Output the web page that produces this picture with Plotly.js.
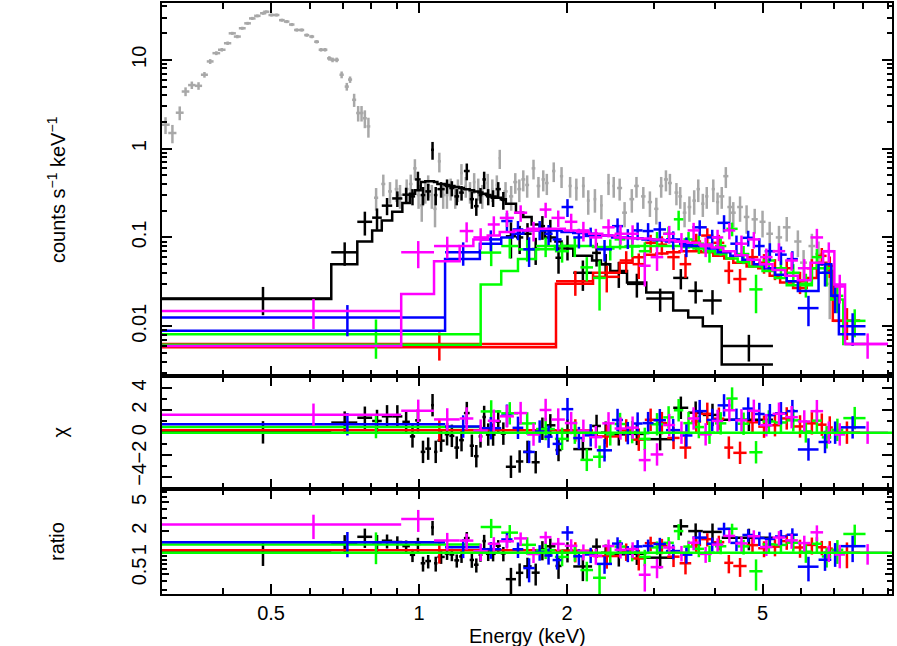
<!DOCTYPE html>
<html><head><meta charset="utf-8">
<script src="https://cdn.plot.ly/plotly-3.0.1.min.js"></script>
<style>html,body{margin:0;padding:0;background:#fff;}#chart{width:897px;height:646px;}</style>
</head><body><div id="chart"></div>
<script>
// ---------- DATA ----------
// Gray spectrum (no model), low-energy part
const grayLoE  = [0.305,0.315,0.326,0.335,0.345,0.356,0.366,0.376,0.387,0.397,0.408,0.417,0.427,0.437,0.448,0.458,0.469,0.482,0.489,0.501,0.513,0.526,0.538,0.551,0.564,0.577,0.591,0.605,0.619,0.632,0.644,0.657,0.667,0.680,0.696,0.713,0.724,0.738,0.752,0.764,0.776,0.789];
const grayLoY  = [1.86,1.5,2.54,4.4,5.2,5.1,6.8,9.6,11.9,13,15.4,19.9,18.3,22.7,25.8,29.3,31.3,33.5,34.8,32,32,28,27,25,21.7,21.7,19,18.3,16,13,13,10.4,10,10,6.8,5,6,3.55,2.52,2.52,2.2,1.78];
const grayLoDY = [0.4,0.35,0.45,0.5,0.5,0.5,0.5,0.6,0.6,0.6,0.7,0.8,0.8,0.9,1.0,1.2,1.2,1.3,1.3,1.3,1.3,1.1,1.1,1.0,0.9,0.9,0.8,0.8,0.7,0.6,0.6,0.6,0.6,0.6,0.6,0.5,0.5,0.6,0.5,0.5,0.5,0.45];
const grayLoDE = [0.006,0.006,0.006,0.006,0.006,0.006,0.006,0.006,0.007,0.007,0.007,0.007,0.007,0.007,0.007,0.007,0.007,0.007,0.007,0.007,0.007,0.007,0.007,0.007,0.007,0.007,0.007,0.007,0.007,0.007,0.007,0.007,0.007,0.007,0.007,0.007,0.007,0.007,0.007,0.007,0.007,0.007];
// Gray spectrum, high-energy part
const grayHiE  = [0.818,0.846,0.873,0.900,0.915,0.944,0.962,0.981,0.998,1.013,1.030,1.044,1.062,1.078,1.100,1.120,1.140,1.160,1.185,1.200,1.220,1.245,1.270,1.295,1.320,1.345,1.380,1.410,1.440,1.460,1.500,1.540,1.570,1.600,1.630,1.660,1.710,1.750,1.790,1.820,1.880,1.950,2.030,2.090,2.160,2.210,2.280,2.350,2.430,2.490,2.560,2.620,2.710,2.770,2.860,2.950,3.040,3.110,3.180,3.240,3.340,3.400,3.470,3.550,3.630,3.700,3.780,3.850,3.970,4.050,4.130,4.210,4.290,4.360,4.500,4.640,4.820,5.000,5.170,5.400,5.600,5.900,6.060,6.300,6.500,6.850];
const grayHiY  = [0.28,0.40,0.33,0.35,0.30,0.35,0.40,0.60,0.30,0.23,0.33,0.39,0.30,0.21,0.72,0.30,0.30,0.36,0.30,0.35,0.53,0.38,0.33,0.42,0.36,0.30,0.41,0.35,0.39,0.78,0.33,0.29,0.42,0.35,0.45,0.39,0.60,0.38,0.45,0.41,0.56,0.49,0.38,0.36,0.38,0.26,0.27,0.23,0.41,0.38,0.36,0.19,0.27,0.38,0.29,0.25,0.21,0.38,0.45,0.41,0.32,0.29,0.19,0.22,0.26,0.35,0.24,0.29,0.35,0.25,0.29,0.49,0.22,0.19,0.22,0.17,0.16,0.15,0.11,0.10,0.13,0.09,0.052,0.08,0.065,0.03];
const grayHiDY = [0.08,0.11,0.09,0.10,0.09,0.10,0.11,0.16,0.09,0.08,0.09,0.11,0.09,0.08,0.18,0.09,0.09,0.10,0.09,0.10,0.14,0.10,0.09,0.11,0.10,0.09,0.11,0.10,0.11,0.19,0.09,0.09,0.11,0.10,0.12,0.11,0.15,0.10,0.12,0.11,0.14,0.13,0.10,0.10,0.10,0.08,0.08,0.07,0.11,0.10,0.10,0.06,0.08,0.10,0.08,0.08,0.07,0.10,0.12,0.11,0.09,0.08,0.06,0.07,0.08,0.10,0.07,0.08,0.10,0.07,0.08,0.13,0.07,0.06,0.07,0.06,0.05,0.05,0.04,0.035,0.04,0.03,0.02,0.03,0.025,0.018];
const grayHiDE = [0.008,0.008,0.008,0.008,0.008,0.008,0.008,0.008,0.008,0.008,0.008,0.008,0.008,0.008,0.008,0.008,0.008,0.008,0.008,0.008,0.008,0.008,0.008,0.008,0.008,0.008,0.008,0.008,0.008,0.008,0.015,0.015,0.015,0.015,0.015,0.015,0.015,0.015,0.015,0.015,0.015,0.015,0.015,0.015,0.015,0.015,0.015,0.015,0.015,0.015,0.03,0.03,0.03,0.03,0.03,0.03,0.03,0.03,0.03,0.03,0.03,0.03,0.03,0.03,0.03,0.03,0.03,0.03,0.03,0.03,0.05,0.05,0.05,0.05,0.06,0.06,0.07,0.07,0.08,0.08,0.1,0.1,0.1,0.1,0.1,0.1];

// Black group: bin edges (keV), rate, 1-sigma error, folded model
const blackEdges = [0.300,0.663,0.749,0.803,0.840,0.882,0.925,0.958,0.982,1.008,1.030,1.058,1.073,1.090,1.128,1.153,1.180,1.207,1.234,1.268,1.294,1.322,1.346,1.368,1.398,1.432,1.467,1.502,1.575,1.630,1.695,1.760,1.805,1.895,1.950,2.060,2.250,2.345,2.450,2.650,2.900,3.290,3.530,3.780,4.130,5.250];
const blackRate  = [0.0205,0.068,0.150,0.167,0.228,0.275,0.303,0.29,0.45,0.30,0.33,0.97,0.30,0.35,0.38,0.36,0.29,0.32,0.56,0.27,0.225,0.30,0.45,0.29,0.28,0.35,0.265,0.103,0.10,0.11,0.074,0.134,0.123,0.059,0.08,0.04,0.067,0.05,0.04,0.030,0.0205,0.035,0.025,0.0195,0.006];
const blackErr   = [0.0072,0.02,0.045,0.045,0.05,0.055,0.06,0.06,0.10,0.07,0.07,0.22,0.07,0.07,0.07,0.07,0.06,0.06,0.12,0.06,0.05,0.06,0.10,0.06,0.06,0.07,0.06,0.045,0.035,0.035,0.025,0.04,0.035,0.02,0.025,0.015,0.02,0.015,0.013,0.009,0.006,0.009,0.007,0.006,0.002];
const blackModel = [0.0203,0.05,0.09,0.12,0.155,0.195,0.245,0.31,0.34,0.42,0.43,0.43,0.42,0.40,0.39,0.38,0.37,0.36,0.35,0.34,0.33,0.32,0.31,0.30,0.29,0.28,0.27,0.24,0.19,0.17,0.14,0.12,0.10,0.09,0.075,0.062,0.055,0.05,0.042,0.031,0.024,0.015,0.0125,0.010,0.0037];

// Red group
const redEdges = [0.30,1.90,2.26,2.56,2.72,2.88,3.04,3.20,3.39,3.58,3.75,3.97,4.18,4.36,4.64,4.90,5.17,5.43,5.77,6.15,6.45,6.75,6.95,7.90];
const redRate  = [0.0063,0.032,0.036,0.055,0.050,0.087,0.083,0.060,0.050,0.090,0.105,0.087,0.042,0.034,0.060,0.052,0.045,0.045,0.032,0.045,0.062,0.048,0.0115];
const redErr   = [0.0022,0.010,0.012,0.015,0.016,0.020,0.020,0.017,0.015,0.020,0.022,0.020,0.012,0.010,0.014,0.013,0.012,0.011,0.009,0.012,0.014,0.013,0.0045];
const redModel = [0.0058,0.030,0.040,0.052,0.060,0.064,0.066,0.068,0.070,0.070,0.068,0.062,0.058,0.052,0.047,0.045,0.037,0.031,0.027,0.035,0.052,0.042,0.0115];

// Green group
const greenEdges = [0.30,1.335,1.47,1.59,1.73,1.89,2.02,2.13,2.26,2.40,2.50,2.63,2.80,2.96,3.14,3.30,3.45,3.62,3.80,4.00,4.22,4.45,4.70,5.00,5.30,5.60,5.95,6.30,6.60,6.90,7.30,8.10];
const greenRate  = [0.0081,0.0675,0.080,0.0735,0.080,0.070,0.080,0.046,0.035,0.075,0.095,0.080,0.070,0.095,0.11,0.16,0.095,0.085,0.07,0.08,0.125,0.065,0.026,0.055,0.045,0.040,0.030,0.060,0.040,0.022,0.0115];
const greenErr   = [0.0038,0.02,0.022,0.02,0.02,0.018,0.02,0.014,0.02,0.02,0.022,0.02,0.018,0.02,0.022,0.04,0.02,0.02,0.018,0.018,0.022,0.015,0.012,0.013,0.011,0.01,0.009,0.014,0.012,0.008,0.004];
const greenModel = [0.0062,0.0296,0.042,0.057,0.0735,0.080,0.080,0.080,0.078,0.078,0.078,0.079,0.080,0.080,0.080,0.080,0.078,0.075,0.070,0.065,0.058,0.053,0.047,0.042,0.035,0.029,0.029,0.045,0.045,0.020,0.0063];

// Blue group
const blueEdges = [0.30,1.13,1.33,1.47,1.55,1.63,1.72,1.80,1.87,1.95,2.06,2.17,2.30,2.47,2.60,2.72,2.85,3.00,3.18,3.40,3.60,3.85,4.05,4.30,4.55,4.80,5.05,5.30,5.60,5.90,6.50,6.90,7.15,8.10];
const blueRate  = [0.0125,0.068,0.095,0.153,0.123,0.0735,0.123,0.11,0.095,0.22,0.10,0.104,0.0735,0.134,0.099,0.12,0.118,0.123,0.095,0.08,0.13,0.10,0.146,0.085,0.099,0.08,0.07,0.064,0.057,0.016,0.04,0.022,0.010];
const blueErr   = [0.0048,0.02,0.025,0.035,0.03,0.027,0.03,0.028,0.025,0.05,0.025,0.025,0.02,0.03,0.025,0.027,0.027,0.027,0.022,0.02,0.026,0.022,0.032,0.02,0.02,0.018,0.016,0.015,0.013,0.006,0.012,0.008,0.004];
const blueModel = [0.0089,0.057,0.085,0.10,0.11,0.12,0.12,0.12,0.12,0.115,0.112,0.11,0.105,0.10,0.10,0.098,0.095,0.093,0.090,0.085,0.08,0.075,0.068,0.062,0.056,0.050,0.045,0.038,0.032,0.025,0.05,0.022,0.0081];

// Magenta group
const magentaEdges = [0.30,0.92,1.073,1.21,1.29,1.38,1.46,1.56,1.66,1.76,1.86,1.98,2.10,2.22,2.36,2.50,2.64,2.80,2.96,3.14,3.32,3.52,3.72,3.94,4.16,4.40,4.66,4.94,5.24,5.56,5.90,6.26,6.64,7.00,7.36,9.00];
const magentaRate  = [0.0148,0.068,0.08,0.118,0.10,0.14,0.166,0.19,0.12,0.206,0.166,0.15,0.12,0.10,0.13,0.11,0.11,0.048,0.06,0.11,0.09,0.12,0.08,0.10,0.12,0.085,0.095,0.06,0.07,0.055,0.045,0.10,0.07,0.028,0.0063];
const magentaErr   = [0.0055,0.023,0.022,0.03,0.027,0.033,0.035,0.04,0.03,0.04,0.035,0.035,0.03,0.025,0.03,0.027,0.027,0.02,0.018,0.025,0.022,0.026,0.02,0.022,0.025,0.02,0.02,0.015,0.016,0.013,0.012,0.025,0.018,0.01,0.002];
const magentaModel = [0.0060,0.0231,0.054,0.08,0.095,0.105,0.115,0.12,0.125,0.125,0.125,0.12,0.115,0.11,0.105,0.10,0.098,0.097,0.095,0.093,0.09,0.087,0.083,0.077,0.070,0.063,0.056,0.050,0.043,0.037,0.033,0.052,0.070,0.0296,0.0063];

// Axis ticks
const xMajor = [0.5,1,2,5];
const xMajorText = ['0.5','1','2','5'];
const xMinor = [0.3,0.4,0.6,0.7,0.8,0.9,3,4,6,7,8,9];
const yTopMajor = [0.01,0.1,1,10];
const yTopMajorText = ['0.01','0.1','1','10'];
const yTopMinor = [0.003,0.004,0.005,0.006,0.007,0.008,0.009,0.02,0.03,0.04,0.05,0.06,0.07,0.08,0.09,0.2,0.3,0.4,0.5,0.6,0.7,0.8,0.9,2,3,4,5,6,7,8,9,20,30,40];
const chiMajor = [-4,-2,0,2,4];
const chiMajorText = ['\u22124','\u22122','0','2','4'];
const chiMinor = [-5,-3,-1,1,3,5];
const ratioMajor = [0.5,1,2,5];
const ratioMajorText = ['0.5','1','2','5'];
const ratioMinor = [0.3,0.4,0.6,0.7,0.8,0.9,3,4,6,7];

// ---------- BUILD ----------
const GRAY = '#a8a8a8';
const LW = 2.5;
const groups = [
  {color:'#000000', edges:blackEdges,   rate:blackRate,   err:blackErr,   model:blackModel},
  {color:'#ff0000', edges:redEdges,     rate:redRate,     err:redErr,     model:redModel},
  {color:'#00ff00', edges:greenEdges,   rate:greenRate,   err:greenErr,   model:greenModel},
  {color:'#0000ff', edges:blueEdges,    rate:blueRate,    err:blueErr,    model:blueModel},
  {color:'#ff00ff', edges:magentaEdges, rate:magentaRate, err:magentaErr, model:magentaModel}
];

function errbar(arr, color){ return {type:'data', symmetric:true, array:arr, color:color, thickness:LW, width:0}; }
const noMarker = {size:1, opacity:0};

const traces = [];
const grayE = grayLoE.concat(grayHiE), grayY = grayLoY.concat(grayHiY);
const grayDY = grayLoDY.concat(grayHiDY), grayDE = grayLoDE.concat(grayHiDE);
traces.push({x:grayE, y:grayY, xaxis:'x', yaxis:'y', type:'scatter', mode:'markers',
  marker:noMarker, error_x:errbar(grayDE, GRAY), error_y:errbar(grayDY, GRAY), showlegend:false, hoverinfo:'skip'});

groups.forEach(g => {
  const n = g.rate.length;
  const cen = [], half = [], chi = [], ratio = [], ratioErr = [], ones = [];
  for (let i = 0; i < n; i++) {
    cen.push((g.edges[i] + g.edges[i+1]) / 2);
    half.push((g.edges[i+1] - g.edges[i]) / 2);
    chi.push((g.rate[i] - g.model[i]) / g.err[i]);
    ratio.push(g.rate[i] / g.model[i]);
    ratioErr.push(g.err[i] / g.model[i]);
    ones.push(1);
  }
  traces.push({x:cen, y:g.rate, xaxis:'x', yaxis:'y', type:'scatter', mode:'markers',
    marker:noMarker, error_x:errbar(half, g.color), error_y:errbar(g.err, g.color),
    showlegend:false, hoverinfo:'skip'});
  traces.push({x:g.edges, y:g.model.concat([g.model[n-1]]), xaxis:'x', yaxis:'y', type:'scatter', mode:'lines',
    line:{shape:'hv', color:g.color, width:LW}, showlegend:false, hoverinfo:'skip'});
  traces.push({x:cen, y:chi, xaxis:'x2', yaxis:'y2', type:'scatter', mode:'markers',
    marker:noMarker, error_x:errbar(half, g.color), error_y:errbar(ones, g.color),
    showlegend:false, hoverinfo:'skip'});
  traces.push({x:cen, y:ratio, xaxis:'x3', yaxis:'y3', type:'scatter', mode:'markers',
    marker:noMarker, error_x:errbar(half, g.color), error_y:errbar(ratioErr, g.color),
    showlegend:false, hoverinfo:'skip'});
});

const FONT = {family:'"Liberation Sans", Arial, Helvetica, sans-serif', size:20, color:'#000'};
const base = {showline:true, linecolor:'#000', linewidth:2, mirror:'allticks', ticks:'inside', ticklen:10,
  tickwidth:2, tickcolor:'#000', showgrid:false, zeroline:false, tickfont:FONT, automargin:false, fixedrange:true};
const minorX = {ticks:'inside', ticklen:6, tickwidth:2, tickcolor:'#000', tickvals:xMinor, showgrid:false};
const xr = [Math.log10(0.3), Math.log10(9.17)];

const layout = {
  width:897, height:646, paper_bgcolor:'#fff', plot_bgcolor:'#fff', showlegend:false,
  margin:{l:162, r:5, t:3, b:52}, font:FONT,
  xaxis: Object.assign({}, base, {type:'log', range:xr, anchor:'y', tickvals:xMajor, ticktext:xMajorText, showticklabels:false, minor:minorX}),
  xaxis2:Object.assign({}, base, {type:'log', range:xr, anchor:'y2', matches:'x', tickvals:xMajor, ticktext:xMajorText, showticklabels:false, minor:minorX}),
  xaxis3:Object.assign({}, base, {type:'log', range:xr, anchor:'y3', matches:'x', tickvals:xMajor, ticktext:xMajorText, showticklabels:true, ticklabelstandoff:0, minor:minorX}),
  yaxis: Object.assign({}, base, {type:'log', domain:[0.36887,1], anchor:'x', range:[Math.log10(0.00275), Math.log10(43.7)],
    tickvals:yTopMajor, ticktext:yTopMajorText, tickangle:-90, ticklabelstandoff:6,
    minor:{ticks:'inside', ticklen:5, tickwidth:2, tickcolor:'#000', tickvals:yTopMinor, showgrid:false}}),
  yaxis2:Object.assign({}, base, {domain:[0.17766,0.36887], anchor:'x2', range:[-5.03,5.06],
    tickvals:chiMajor, ticktext:chiMajorText, tickangle:-90, ticklabelstandoff:6,
    minor:{ticks:'inside', ticklen:5, tickwidth:2, tickcolor:'#000', tickvals:chiMinor, showgrid:false}}),
  yaxis3:Object.assign({}, base, {type:'log', domain:[0,0.17766], anchor:'x3', range:[Math.log10(0.267), Math.log10(7.7)],
    tickvals:ratioMajor, ticktext:ratioMajorText, tickangle:-90, ticklabelstandoff:6, ticklen:7,
    minor:{ticks:'inside', ticklen:5, tickwidth:2, tickcolor:'#000', tickvals:ratioMinor, showgrid:false}}),
  shapes:[
    {type:'line', xref:'x2 domain', x0:0, x1:1, yref:'y2', y0:0, y1:0, line:{color:'#00ff00', width:LW}},
    {type:'line', xref:'x3 domain', x0:0, x1:1, yref:'y3', y0:1, y1:1, line:{color:'#00ff00', width:LW}}
  ],
  annotations:[
    {xref:'paper', yref:'paper', x:-0.1438, y:0.6836, text:'counts s<sup>\u22121</sup> keV<sup>\u22121</sup>', textangle:-90, showarrow:false, xanchor:'center', yanchor:'middle', font:FONT},
    {xref:'paper', yref:'paper', x:-0.1404, y:0.2741, text:'\u03c7', textangle:-90, showarrow:false, xanchor:'center', yanchor:'middle', font:FONT},
    {xref:'paper', yref:'paper', x:-0.1438, y:0.088, text:'ratio', textangle:-90, showarrow:false, xanchor:'center', yanchor:'middle', font:FONT},
    {xref:'paper', yref:'paper', x:0.5, y:-0.0710, text:'Energy (keV)', showarrow:false, xanchor:'center', yanchor:'middle', font:FONT}
  ]
};

Plotly.newPlot('chart', traces, layout, {staticPlot:true, displayModeBar:false});
</script></body></html>
